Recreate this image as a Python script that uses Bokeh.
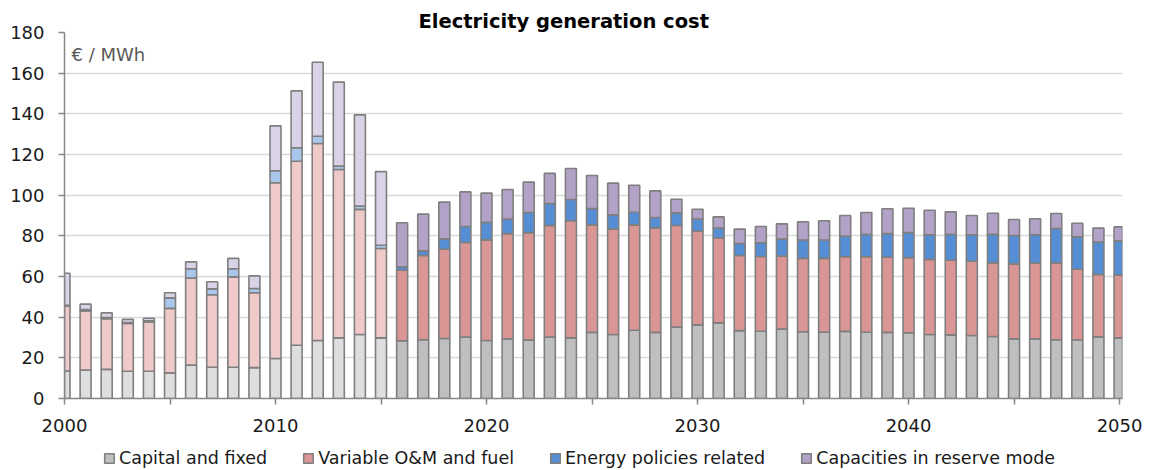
from bokeh.plotting import figure
from bokeh.models import (ColumnDataSource, Range1d, FixedTicker, Legend, LegendItem, Label)
from bokeh.layouts import column
from bokeh.embed import file_html
from bokeh.resources import INLINE

years = list(range(2000, 2051))
capital = [13.5, 14.0, 14.3, 13.4, 13.4, 12.6, 16.4, 15.4, 15.4, 15.2, 19.7, 26.2, 28.5, 29.8, 31.5, 29.8,
           28.4, 28.9, 29.5, 30.2, 28.5, 29.3, 28.7, 30.2, 29.8, 32.5, 31.5, 33.6, 32.5, 35.1, 36.2, 37.2,
           33.4, 33.1, 34.1, 32.8, 32.6, 33.0, 32.6, 32.5, 32.3, 31.5, 31.3, 31.0, 30.5, 29.3, 29.3, 28.9,
           28.9, 30.3, 29.8]
variable = [32.0, 29.1, 25.0, 23.5, 24.3, 31.7, 42.8, 35.6, 44.4, 36.8, 86.4, 90.5, 96.9, 82.8, 61.5, 44.0,
            34.7, 41.4, 43.9, 46.5, 49.5, 51.8, 52.9, 54.9, 57.6, 52.9, 51.8, 51.8, 51.4, 50.0, 46.1, 41.7,
            36.9, 36.7, 35.9, 36.1, 36.3, 36.7, 37.1, 37.0, 37.0, 36.9, 36.7, 36.5, 36.2, 36.9, 37.3, 37.8,
            34.7, 30.7, 30.9]
policies = [0.3, 0.7, 0.5, 0.5, 0.5, 5.2, 4.6, 2.9, 4.0, 2.1, 5.9, 6.6, 3.6, 1.7, 1.6, 1.6,
            1.7, 2.3, 5.1, 7.9, 8.6, 7.1, 9.9, 10.8, 10.5, 8.0, 7.0, 6.2, 5.1, 6.2, 5.9, 4.9,
            5.9, 6.8, 8.4, 9.0, 9.0, 10.1, 11.0, 11.6, 12.3, 12.1, 12.7, 13.0, 14.0, 14.0, 13.9, 16.9,
            15.9, 16.0, 16.8]
reserve = [15.8, 2.6, 2.3, 1.5, 1.3, 2.5, 3.4, 3.5, 5.1, 6.2, 22.1, 28.0, 36.4, 41.3, 44.9, 36.2,
           21.6, 18.1, 18.1, 17.0, 14.4, 14.6, 14.9, 14.8, 15.2, 16.3, 15.6, 13.3, 13.1, 6.7, 4.9, 5.5,
           7.1, 8.0, 7.5, 9.0, 9.5, 10.2, 10.8, 12.2, 12.0, 12.1, 11.1, 9.5, 10.4, 7.8, 7.9, 7.4,
           6.7, 6.8, 6.9]
series_names = ["Capital and fixed", "Variable O&M and fuel", "Energy policies related", "Capacities in reserve mode"]
last_history_year = 2015

keys = ["capital", "variable", "policies", "reserve"]
colors_future = ["#BFBFBF", "#D99694", "#558ED5", "#B3A2C7"]
colors_hist = ["#DEDEDE", "#F0C9C9", "#A9C7EC", "#DAD2E6"]
outline = "#7F7F7F"

def subset(cond):
    idx = [i for i, y in enumerate(years) if cond(y)]
    return ColumnDataSource(dict(
        year=[years[i] for i in idx],
        capital=[capital[i] for i in idx],
        variable=[variable[i] for i in idx],
        policies=[policies[i] for i in idx],
        reserve=[reserve[i] for i in idx],
    ))

src_hist = subset(lambda y: y <= last_history_year)
src_fut = subset(lambda y: y > last_history_year)

W = 1150
p = figure(width=W, height=440, x_range=Range1d(2000, 2050.14), y_range=Range1d(0, 180),
           output_backend="svg", toolbar_location=None,
           min_border_left=64, min_border_right=W - 1122, min_border_top=32, min_border_bottom=42)
p.outline_line_color = None
p.background_fill_color = "white"

p.title.text = "Electricity generation cost"
p.title.text_font = "DejaVu Sans"
p.title.text_font_style = "bold"
p.title.text_font_size = "19.5px"
p.title.align = "left"
p.title.offset = 354
p.title.standoff = 0
p.title.text_color = "#000000"

p.xgrid.visible = False
p.ygrid.grid_line_color = "#D9D9D9"
p.ygrid.grid_line_width = 1.5

p.xaxis.ticker = FixedTicker(ticks=list(range(2000, 2051, 10)), minor_ticks=list(range(2005, 2050, 10)))
p.yaxis.ticker = FixedTicker(ticks=list(range(0, 181, 20)))
p.ygrid.ticker = FixedTicker(ticks=list(range(20, 181, 20)))
for ax in (p.xaxis, p.yaxis):
    ax.axis_line_color = "#868686"
    ax.axis_line_width = 1.5
    ax.major_tick_line_color = "#868686"
    ax.major_tick_line_width = 1.5
    ax.minor_tick_line_color = "#868686"
    ax.minor_tick_line_width = 1.5
    ax.major_tick_in = 0
    ax.major_tick_out = 6
    ax.minor_tick_in = 0
    ax.minor_tick_out = 6
    ax.major_label_text_font = "DejaVu Sans"
    ax.major_label_text_font_size = "18px"
    ax.major_label_text_color = "#1A1A1A"
p.yaxis.minor_tick_line_color = None
p.yaxis.major_label_standoff = 14
p.xaxis.major_label_standoff = 14

p.vbar_stack(keys, x="year", width=0.52, source=src_hist, fill_color=colors_hist,
             line_color=outline, line_width=1.6)
p.vbar_stack(keys, x="year", width=0.52, source=src_fut, fill_color=colors_future,
             line_color=outline, line_width=1.6)

unit = Label(x=2000.33, y=174.1, text="€ / MWh", text_font="DejaVu Sans", text_font_size="18px",
             text_color="#595959", text_baseline="top", text_align="left")
p.add_layout(unit)

# legend strip below the chart: hidden renderers on the same data supply the legend swatches
q = figure(width=W, height=30, x_range=Range1d(2000, 2050.14), y_range=Range1d(1000, 1250),
           output_backend="svg", toolbar_location=None,
           x_axis_location=None, y_axis_location=None,
           min_border_left=0, min_border_right=0, min_border_top=0, min_border_bottom=0)
q.outline_line_color = None
q.xgrid.visible = False
q.ygrid.visible = False
rs = q.vbar_stack(keys, x="year", width=0.52, source=src_fut, fill_color=colors_future,
                  line_color=outline, line_width=1.6)
for r in rs:
    r.visible = False
items = [LegendItem(label=n, renderers=[r]) for n, r in zip(series_names, rs)]
legend = Legend(items=items, orientation="horizontal", location=(39, 2), spacing=35, label_standoff=4,
                glyph_width=12, glyph_height=12, padding=0, margin=0,
                border_line_color=None, background_fill_alpha=0,
                inactive_fill_alpha=0,
                label_text_font="DejaVu Sans", label_text_font_size="17.5px",
                label_text_color="#1A1A1A")
q.add_layout(legend)

open("out.html", "w").write(file_html(column(p, q), INLINE))
